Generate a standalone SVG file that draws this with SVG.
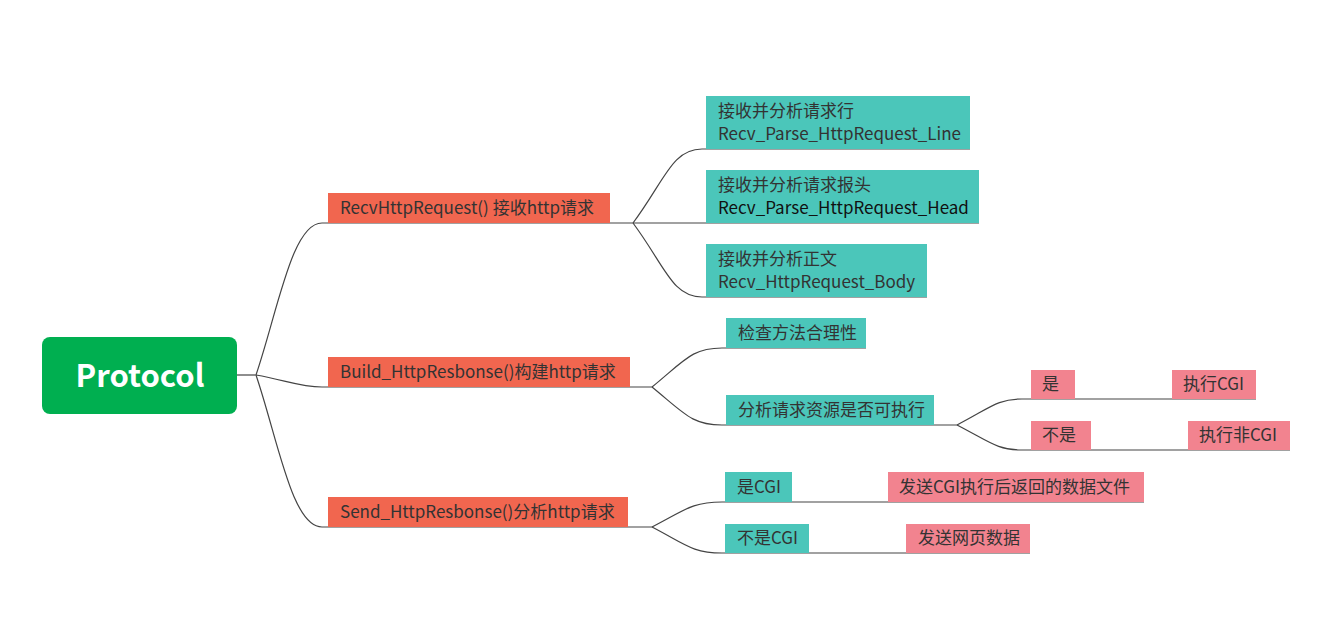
<svg xmlns="http://www.w3.org/2000/svg" width="1331" height="632" viewBox="0 0 1331 632">
<style>
text{font-family:"Noto Sans CJK SC","Microsoft YaHei",sans-serif;font-size:17px;fill:#333}
.red{fill:#F1664F}
.teal{fill:#4BC6BA}
.pink{fill:#F2838F}
.ln{fill:none;stroke:#444;stroke-width:1.2}
.root{fill:#fff;font-size:31px;font-weight:bold}
</style>
<rect width="1331" height="632" fill="#fff"/>
<g id="connectors">
<path class="ln" d="M237,375 H256"/>
<path class="ln" d="M256,375 C278,310 292,223 322,223 H633"/>
<path class="ln" d="M256,375 C285,380 300,387 322,387 H652"/>
<path class="ln" d="M256,375 C278,440 292,527 322,527 H652"/>
<path class="ln" d="M633,223 C665,180 672,149 702,149 H970"/>
<path class="ln" d="M633,223 H979"/>
<path class="ln" d="M633,223 C665,266 672,297 702,297 H927"/>
<path class="ln" d="M652,387 C685,360 692,348 722,348 H866"/>
<path class="ln" d="M652,387 C685,414 692,425 722,425 H957"/>
<path class="ln" d="M957,425 C990,408 997,399 1022,399 H1256"/>
<path class="ln" d="M957,425 C990,442 997,450 1022,450 H1290"/>
<path class="ln" d="M652,527 C685,510 692,502 722,502 H1144"/>
<path class="ln" d="M652,527 C685,544 692,553 722,553 H1030"/>
</g>
<g id="root"><rect x="42" y="337" width="195" height="77" rx="8" fill="#00AF50"/><text class="root" x="140" y="387" text-anchor="middle">Protocol</text></g>
<g id="n-recv"><rect class="red" x="328" y="193" width="282" height="30"/><text x="340" y="214">RecvHttpRequest() 接收http请求</text></g>
<g id="n-build"><rect class="red" x="328" y="357" width="302" height="30"/><text x="340" y="378">Build_HttpResbonse()构建http请求</text></g>
<g id="n-send"><rect class="red" x="328" y="497" width="300" height="30"/><text x="340" y="518">Send_HttpResbonse()分析http请求</text></g>
<g id="n-line"><rect class="teal" x="706" y="96" width="264" height="53"/><text x="718" y="117">接收并分析请求行</text><text x="718" y="140">Recv_Parse_HttpRequest_Line</text></g>
<g id="n-head"><rect class="teal" x="706" y="170" width="273" height="53"/><text x="718" y="191">接收并分析请求报头</text><text x="718" y="214" style="fill:#111">Recv_Parse_HttpRequest_Head</text></g>
<g id="n-body"><rect class="teal" x="706" y="244" width="221" height="53"/><text x="718" y="265">接收并分析正文</text><text x="718" y="288">Recv_HttpRequest_Body</text></g>
<g id="n-check"><rect class="teal" x="726" y="318" width="140" height="30"/><text x="738" y="339">检查方法合理性</text></g>
<g id="n-analyze"><rect class="teal" x="726" y="395" width="208" height="30"/><text x="738" y="416">分析请求资源是否可执行</text></g>
<g id="n-yes"><rect class="pink" x="1031" y="370" width="44" height="29"/><text x="1042" y="390">是</text></g>
<g id="n-execcgi"><rect class="pink" x="1172" y="370" width="84" height="29"/><text x="1183" y="390">执行CGI</text></g>
<g id="n-no"><rect class="pink" x="1031" y="421" width="60" height="29"/><text x="1042" y="441">不是</text></g>
<g id="n-execnon"><rect class="pink" x="1188" y="421" width="102" height="29"/><text x="1199" y="441">执行非CGI</text></g>
<g id="n-iscgi"><rect class="teal" x="725" y="472" width="67" height="30"/><text x="737" y="493">是CGI</text></g>
<g id="n-sendcgi"><rect class="pink" x="888" y="472" width="256" height="30"/><text x="899" y="493">发送CGI执行后返回的数据文件</text></g>
<g id="n-notcgi"><rect class="teal" x="725" y="524" width="84" height="29"/><text x="737" y="544">不是CGI</text></g>
<g id="n-sendweb"><rect class="pink" x="906" y="524" width="124" height="29"/><text x="918" y="544">发送网页数据</text></g>
</svg>
